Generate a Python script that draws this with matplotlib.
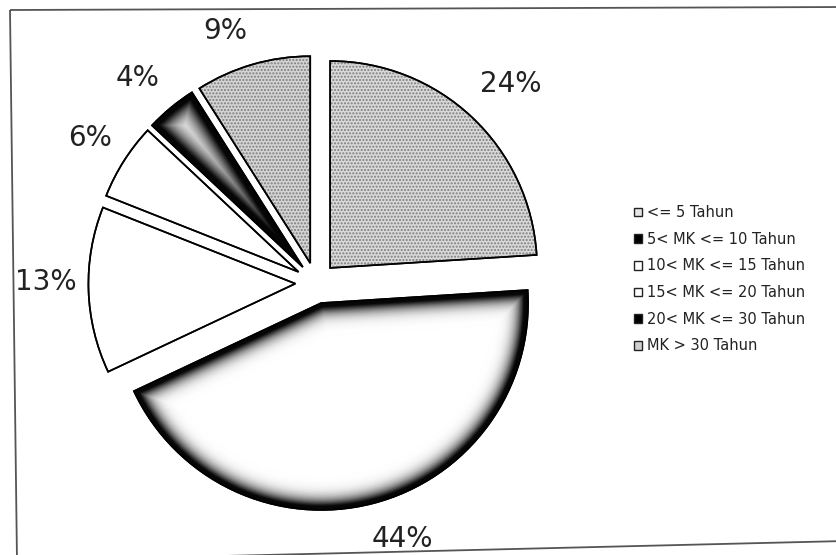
import numpy as np
import matplotlib.pyplot as plt
from matplotlib.patches import Wedge, Patch, Polygon

# masa kerja (MK) responden, persen
kategori = ["<= 5 Tahun", "5< MK <= 10 Tahun", "10< MK <= 15 Tahun",
            "15< MK <= 20 Tahun", "20< MK <= 30 Tahun", "MK > 30 Tahun"]
persen = [24, 44, 13, 6, 4, 9]

warna = ["#d9d9d9", "white", "white", "white", "white", "#d4d4d4"]
warna_legend = ["#e6e6e6", "black", "white", "white", "black", "#cfcfcf"]
bintik = [True, False, False, False, False, True]
# slice index -> (solid rim px, fade scale px)
gradasi = {1: (4.0, 8.0), 4: (5.0, 11.0)}
# label nudges in px (right, down)
geser = [(9, -1), (19, -7), (1, -10), (3, 0), (-6, 4), (-15, 8)]

W, H = 837, 555
SKALA = 600 / 2.9  # px per data unit


def gradient_edge(ax, w, solid, fade, n=45, dmax=34.0):
    # stacked strokes clipped to the wedge: dark rim fading inward
    depths = np.linspace(dmax, 0.5, n)
    dark = np.where(depths < solid, 0.97,
                    0.97 * np.exp(-(np.clip(depths - solid, 0, None) / fade) ** 1.3))
    trans = 1 - dark
    prev = 1.0
    for d, t in zip(depths, trans):
        a = 1 - t / prev
        prev = t
        if a <= 0:
            continue
        p = Wedge(w.center, w.r, w.theta1, w.theta2, fill=False,
                  edgecolor="black", linewidth=2 * d * 0.72, alpha=a)
        ax.add_patch(p)
        p.set_clip_path(w)


def main():
    fig = plt.figure(figsize=(W / 100, H / 100), dpi=100)
    fig.patch.set_facecolor("white")
    ax = fig.add_axes([16 / W, -28 / H, 600 / W, 600 / H])

    wedges, texts, pcts = ax.pie(
        persen, startangle=90, counterclock=False, explode=[0.1] * 6,
        colors=warna, autopct="%.0f%%", pctdistance=1.21,
        wedgeprops=dict(edgecolor="black", linewidth=1.2),
        textprops=dict(fontsize=20, color="#222222"))
    for t, (dx, dy) in zip(pcts, geser):
        x, y = t.get_position()
        t.set_position((x + dx / SKALA, y - dy / SKALA))

    for i, w in enumerate(wedges):
        if bintik[i]:
            h = Wedge(w.center, w.r, w.theta1, w.theta2, facecolor="none",
                      edgecolor="#7d7d7d", linewidth=0, hatch=".....")
            ax.add_patch(h)
        if i in gradasi:
            gradient_edge(ax, w, *gradasi[i])
        ol = Wedge(w.center, w.r, w.theta1, w.theta2, fill=False,
                   edgecolor="black", linewidth=1.2)
        ax.add_patch(ol)

    ax.set_xlim(-1.45, 1.45)
    ax.set_ylim(-1.45, 1.45)
    ax.set_aspect("equal")
    ax.axis("off")

    handles = [Patch(facecolor=c, edgecolor="#222222", linewidth=1.0)
               for c in warna_legend]
    fig.legend(handles, kategori, loc="upper left",
               bbox_to_anchor=(621 / W, 1 - 192 / H), frameon=False,
               fontsize=10.5, handlelength=0.55, handleheight=0.55,
               handletextpad=0.3, labelspacing=0.8, labelcolor="#222222")

    # slightly skewed page frame
    sudut = [(10, 10), (845, 7), (845, 541), (17, 561)]
    fig.patches.append(Polygon([(x / W, 1 - y / H) for x, y in sudut],
                               closed=True, transform=fig.transFigure,
                               fill=False, edgecolor="#555555",
                               linewidth=1.3))

    fig.savefig("out.png", dpi=100)


if __name__ == "__main__":
    main()
